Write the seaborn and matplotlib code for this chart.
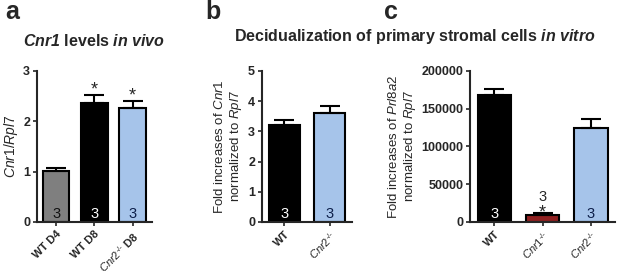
import matplotlib
matplotlib.use("Agg")
import matplotlib.pyplot as plt
import seaborn as sns

# panel a: Cnr1 levels in vivo
a_labels = ["WT D4", "WT D8", "$\\mathit{Cnr2}^{\u2010/\u2010}$ D8"]
a_values = [1.02, 2.36, 2.27]
a_err = [0.06, 0.17, 0.14]
a_n = [3, 3, 3]
a_star = [False, True, True]

# panel b: Cnr1 fold increase in vitro
b_labels = ["WT", "$\\mathit{Cnr2}^{\u2010/\u2010}$"]
b_values = [3.21, 3.62]
b_err = [0.16, 0.22]
b_n = [3, 3]

# panel c: Prl8a2 fold increase in vitro
c_labels = ["WT", "$\\mathit{Cnr1}^{\u2010/\u2010}$", "$\\mathit{Cnr2}^{\u2010/\u2010}$"]
c_values = [168000, 9500, 125000]
c_err = [8000, 1800, 11000]
c_n = [3, 3, 3]

sns.set_style("ticks")
plt.rcParams["font.family"] = ["Liberation Sans", "DejaVu Sans"]
plt.rcParams["mathtext.fontset"] = "custom"
plt.rcParams["mathtext.rm"] = "Liberation Sans"
plt.rcParams["mathtext.it"] = "Liberation Sans:italic"
plt.rcParams["mathtext.bf"] = "Liberation Sans:bold"
plt.rcParams["mathtext.bfit"] = "Liberation Sans:italic:bold"

GRAY = "#7f7f7f"
BLUE = "#9ac3f6"
RED = "#a30e0e"
NAVY = "#0d1f4a"


def draw(ax, labels, values, err, colors, ylim, yticks):
    sns.barplot(x=labels, y=values, hue=labels, palette=colors, legend=False,
                edgecolor="black", linewidth=1.5, width=0.69, ax=ax)
    xs = [p.get_x() + p.get_width() / 2 for p in ax.patches]
    ax.errorbar(xs, values, yerr=[[0] * len(values), err], fmt="none",
                ecolor="black", elinewidth=1.5, capsize=7, capthick=1.5)
    ax.set_xlim(-0.5, len(values) - 0.5)
    ax.set_ylim(*ylim)
    ax.set_yticks(yticks)
    ax.set_xticks(range(len(labels)))
    ax.set_xticklabels(labels, rotation=45, ha="right", rotation_mode="anchor",
                       fontsize=8, fontweight="bold")
    for t in ax.get_yticklabels():
        t.set_fontweight("bold")
        t.set_fontsize(9)
    sns.despine(ax=ax)
    for s in ["left", "bottom"]:
        ax.spines[s].set_linewidth(1.5)
    ax.tick_params(width=1.2, length=3, pad=2)
    return xs


fig = plt.figure(figsize=(6.17, 2.74), dpi=100)
ax_a = fig.add_axes([0.060, 0.19, 0.186, 0.551])
ax_b = fig.add_axes([0.4246, 0.19, 0.146, 0.551])
ax_c = fig.add_axes([0.762, 0.19, 0.235, 0.551])

xa = draw(ax_a, a_labels, a_values, a_err, [GRAY, "black", BLUE], (0, 3), [0, 1, 2, 3])
xb = draw(ax_b, b_labels, b_values, b_err, ["black", BLUE], (0, 5), [0, 1, 2, 3, 4, 5])
xc = draw(ax_c, c_labels, c_values, c_err, ["black", RED, BLUE], (0, 200000),
          [0, 50000, 100000, 150000, 200000])

# n labels inside bars
for ax, xs, ns, cols, ymax in [(ax_a, xa, a_n, ["#111111", "white", NAVY], 3),
                               (ax_b, xb, b_n, ["white", NAVY], 5),
                               (ax_c, xc, c_n, ["white", None, NAVY], 200000)]:
    for x, n, col in zip(xs, ns, cols):
        if col is None:
            continue
        ax.text(x, ymax * 0.05, str(n), ha="center", va="center",
                color=col, fontsize=10.5)

for x, v, e, s in zip(xa, a_values, a_err, a_star):
    if s:
        ax_a.text(x, v + e + 0.0, "*", ha="center", va="baseline", fontsize=13)

# Cnr1-/- bar: star and n above it
ax_c.text(xc[1], 5500, "*", ha="center", va="baseline", fontsize=13)
ax_c.text(xc[1], 28000, str(c_n[1]), ha="center", va="baseline", fontsize=10.5)

ax_a.set_ylabel(r"$\mathit{Cnr1/Rpl7}$", fontsize=10, labelpad=2)
ax_b.set_ylabel("Fold increases of $\\mathit{Cnr1}$\nnormalized to $\\mathit{Rpl7}$",
                fontsize=9.5, labelpad=3)
ax_c.set_ylabel("Fold increases of $\\mathit{Prl8a2}$\nnormalized to $\\mathit{Rpl7}$",
                fontsize=9.5, labelpad=2)

fig.text(0.152, 0.85, r"$\mathbfit{Cnr1}$ levels $\mathbfit{in\ vivo}$",
         ha="center", va="center", fontsize=11.5, fontweight="bold")
fig.text(0.672, 0.868, r"Decidualization of primary stromal cells $\mathbfit{in\ vitro}$",
         ha="center", va="center", fontsize=11.5, fontweight="bold")

for x, letter in [(0.008, "a"), (0.333, "b"), (0.622, "c")]:
    fig.text(x, 0.955, letter, ha="left", va="center", fontsize=18, fontweight="bold")

fig.savefig("out.png", dpi=100)
